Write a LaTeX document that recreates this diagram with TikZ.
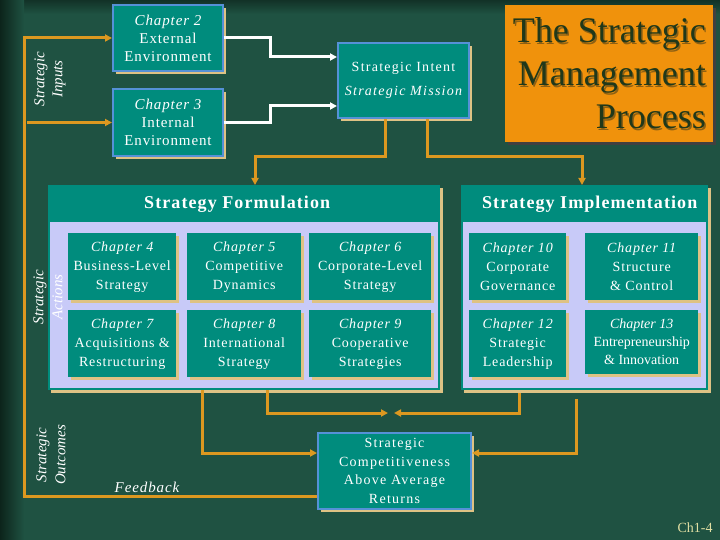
\documentclass[tikz,border=0pt]{standalone}
\usepackage{fontspec}
\setmainfont{Liberation Serif}
\newfontfamily\spacedfont[LetterSpace=6]{Liberation Serif}
\newfontfamily\widefont[LetterSpace=9]{Liberation Serif}
\usetikzlibrary{arrows.meta,shadows}
\definecolor{bg}{RGB}{31,82,66}
\definecolor{bgdark}{RGB}{12,36,27}
\definecolor{boxteal}{RGB}{0,140,125}
\definecolor{bluebd}{RGB}{85,145,215}
\definecolor{tanc}{RGB}{222,194,132}
\definecolor{orl}{RGB}{220,152,32}
\definecolor{lav}{RGB}{200,202,248}
\definecolor{titleor}{RGB}{240,146,12}
\definecolor{titletx}{RGB}{32,56,26}
\definecolor{titlesh}{RGB}{140,96,20}
\definecolor{khaki}{RGB}{224,222,162}
\tikzset{
  tanshadow/.style={drop shadow={shadow xshift=3pt,shadow yshift=-3pt,fill=tanc,opacity=1}},
  chap/.style={fill=boxteal,text=white,align=center,inner sep=0pt,anchor=north west,
    font=\spacedfont\fontsize{14}{19}\selectfont,tanshadow},
  bchap/.style={chap,draw=bluebd,line width=2pt,font=\spacedfont\fontsize{15}{18}\selectfont},
  panel/.style={fill=boxteal,inner sep=0pt,anchor=north west,tanshadow},
  sect/.style={text=white,font=\spacedfont\bfseries\fontsize{18}{20}\selectfont},
  rot/.style={rotate=90,align=center,text=white,inner sep=0pt,font=\itshape\fontsize{15}{18}\selectfont},
  oline/.style={draw=orl,line width=3pt},
  wline/.style={draw=white,line width=3pt},
  >={Triangle[length=7pt,width=7pt]},
  ttl/.style={anchor=base east,inner sep=0pt,font=\fontsize{36}{43}\selectfont},
}
\begin{document}
\begin{tikzpicture}[x=1pt,y=-1pt]
\useasboundingbox (0,0) rectangle (720,540);
\fill[bg] (0,0) rectangle (720,540);
\shade[top color=bgdark!70!bg,bottom color=bg] (0,0) rectangle (720,14);
\shade[left color=bgdark,right color=bg] (0,0) rectangle (24,540);

% top boxes
\node[bchap,minimum width=110pt,minimum height=66pt] (c2) at (112,4) {{\itshape Chapter 2}\\External\\Environment};
\node[bchap,minimum width=110pt,minimum height=67pt] (c3) at (112,88) {{\itshape Chapter 3}\\Internal\\Environment};
\node[bchap,minimum width=131pt,minimum height=75pt,font=\widefont\fontsize{14}{24}\selectfont] (intent) at (337,42) {Strategic Intent\\{\itshape Strategic Mission}};

% title
\node[fill=titleor,minimum width=208pt,minimum height=137pt,anchor=north west,inner sep=0pt,
  drop shadow={shadow xshift=3pt,shadow yshift=-3pt,fill=black!75,opacity=1}] (title) at (505,5) {};
\foreach \t/\yy in {The Strategic/43,Management/86,Process/129}{
  \node[ttl,text=titlesh] at (707.5,\yy+1.5) {\t};
  \node[ttl,text=titletx] at (706,\yy) {\t};
}

% panels
\node[panel,minimum width=392pt,minimum height=205pt] (form) at (48,185) {};
\fill[lav] ([xshift=2pt,yshift=-37pt]form.north west) rectangle ([xshift=-2pt,yshift=2pt]form.south east);
\node[sect] at ([xshift=-7pt,yshift=-19pt]form.north) {Strategy Formulation};
\node[panel,minimum width=247pt,minimum height=205pt] (impl) at (461,185) {};
\fill[lav] ([xshift=2pt,yshift=-37pt]impl.north west) rectangle ([xshift=-2pt,yshift=2pt]impl.south east);
\node[sect] at ([xshift=5pt,yshift=-19pt]impl.north) {Strategy Implementation};

% chapter boxes
\node[chap,minimum width=108pt,minimum height=67pt] (c4) at (68,233) {{\itshape Chapter 4}\\Business-Level\\Strategy};
\node[chap,minimum width=114pt,minimum height=67pt] (c5) at (187,233) {{\itshape Chapter 5}\\Competitive\\Dynamics};
\node[chap,minimum width=122pt,minimum height=67pt] (c6) at (309,233) {{\itshape Chapter 6}\\Corporate-Level\\Strategy};
\node[chap,minimum width=108pt,minimum height=67pt] (c7) at (68,310) {{\itshape Chapter 7}\\Acquisitions \&\\Restructuring};
\node[chap,minimum width=114pt,minimum height=67pt] (c8) at (187,310) {{\itshape Chapter 8}\\International\\Strategy};
\node[chap,minimum width=122pt,minimum height=67pt] (c9) at (309,310) {{\itshape Chapter 9}\\Cooperative\\Strategies};
\node[chap,minimum width=97pt,minimum height=67pt] (c10) at (469,233) {{\itshape Chapter 10}\\Corporate\\Governance};
\node[chap,minimum width=113pt,minimum height=67pt] (c11) at (585,233) {{\itshape Chapter 11}\\Structure\\\& Control};
\node[chap,minimum width=97pt,minimum height=67pt] (c12) at (469,310) {{\itshape Chapter 12}\\Strategic\\Leadership};
\node[chap,minimum width=113pt,minimum height=64pt,font=\fontsize{14}{18}\selectfont] (c13) at (585,310) {{\itshape Chapter 13}\\Entrepreneurship\\\& Innovation};

% outcome box
\node[bchap,minimum width=153pt,minimum height=76pt,font=\widefont\fontsize{14}{18.5}\selectfont] (comp) at (317,432) {Strategic\\Competitiveness\\Above Average\\Returns};

% rotated labels
\node[rot] (lin) at (50,79) {Strategic\\Inputs};
\node[rot,font=\itshape\fontsize{15}{19}\selectfont] (lac) at (48,297) {Strategic\\Actions};
\node[rot,font=\itshape\fontsize{15}{19}\selectfont] (lout) at (51,455) {Strategic\\Outcomes};
\node[text=white,inner sep=0pt,font=\spacedfont\itshape\fontsize{15}{18}\selectfont] (fb) at (147,487) {Feedback};
\node[text=khaki,inner sep=0pt,font=\fontsize{14}{16}\selectfont] (pg) at (695,528) {Ch1-4};

% white connectors
\draw[wline,->] (c2.east) -- ++(46,0) |- ([yshift=-15pt]intent.north west);
\draw[wline,->] (c3.east) -- ++(46,0) |- ([yshift=-64pt]intent.north west);

% orange connectors
\draw[oline,->] ([xshift=48pt]intent.south west) -- ++(0,38) -| ([xshift=207pt]form.north west);
\draw[oline,->] ([xshift=90pt]intent.south west) -- ++(0,38) -| ([xshift=121pt]impl.north west);
\draw[oline,->] ([yshift=-64pt]comp.north west) -| ([xshift=-88pt]c2.west) -- (c2.west);
\draw[oline,->] ([xshift=-85pt]c3.west) -- (c3.west);
\coordinate (m1) at (388,413);
\coordinate (m2) at (394,413);
\draw[oline,->] ([xshift=154pt]form.south west) |- ([yshift=-21pt]comp.north west);
\draw[oline,->] ([xshift=219pt]form.south west) |- (m1);
\draw[oline,->] ([xshift=58pt,yshift=-3pt]impl.south west) |- (m2);
\draw[oline,->] ([xshift=115pt,yshift=-9pt]impl.south west) |- ([yshift=-21pt]comp.north east);
\end{tikzpicture}
\end{document}
